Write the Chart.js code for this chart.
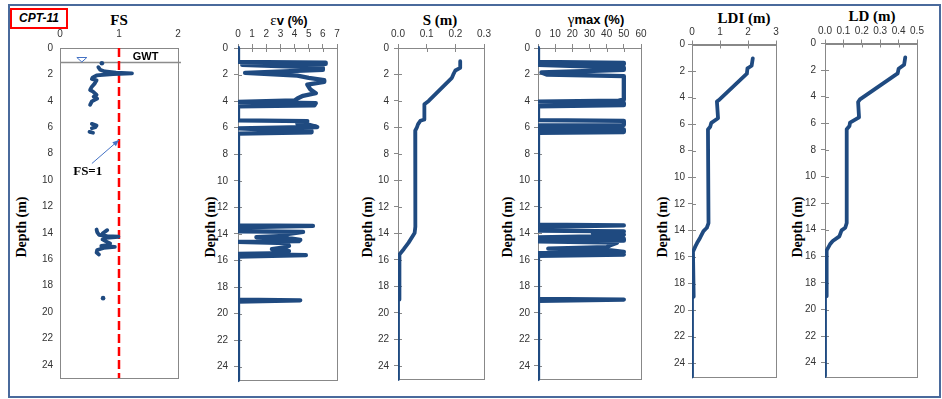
<!DOCTYPE html>
<html>
<head>
<meta charset="utf-8">
<script src="https://cdn.jsdelivr.net/npm/chart.js@4.4.0/dist/chart.umd.min.js"></script>
<style>
  body { margin: 0; background: #fff; width: 942px; height: 399px; position: relative; overflow: hidden; }
  .frame { position: absolute; left: 8px; top: 4px; width: 933px; height: 394px; box-sizing: border-box; border: 2px solid #4a6a9c; }
  .tag { position: absolute; left: 10px; top: 8px; width: 58px; height: 21px; box-sizing: border-box; border: 2px solid #ff0000;
         font: italic bold 12px 'Liberation Sans', sans-serif; line-height: 17px; text-align: center; color: #000; }
  canvas { position: absolute; top: 0; }
  .ttl { position: absolute; transform: translate(-50%, -50%); white-space: nowrap; font: bold 15px 'Liberation Serif', serif; color: #000; }
  .ttl .sym { font: 15px 'Liberation Serif', serif; }
  .ttl .sans { font: bold 13px 'Liberation Sans', sans-serif; }
  .dep { position: absolute; transform: translate(-50%, -50%) rotate(-90deg); white-space: nowrap; font: bold 14px 'Liberation Serif', serif; color: #000; }
</style>
</head>
<body>
<div class="frame"></div>
<div class="tag">CPT-11</div>

<div class="ttl" style="left:119px;top:20px">FS</div>
<div class="ttl" style="left:289px;top:20px"><span class="sym">ε</span><span class="sans">v (%)</span></div>
<div class="ttl" style="left:440px;top:20px">S (m)</div>
<div class="ttl" style="left:596px;top:19px"><span class="sym">γ</span><span class="sans">max (%)</span></div>
<div class="ttl" style="left:744px;top:18px">LDI (m)</div>
<div class="ttl" style="left:872px;top:16px">LD (m)</div>

<div class="dep" style="left:22px;top:227px">Depth (m)</div>
<div class="dep" style="left:211px;top:227px">Depth (m)</div>
<div class="dep" style="left:368px;top:227px">Depth (m)</div>
<div class="dep" style="left:508px;top:227px">Depth (m)</div>
<div class="dep" style="left:663px;top:227px">Depth (m)</div>
<div class="dep" style="left:798px;top:227px">Depth (m)</div>

<canvas id="fs"></canvas>
<canvas id="ev"></canvas>
<canvas id="s"></canvas>
<canvas id="gm"></canvas>
<canvas id="ldi"></canvas>
<canvas id="ld"></canvas>

<script>
// [value, depth] pairs, null breaks the line
const fsProfile = [
  [0.65,1.45],[0.68,1.65],[0.76,1.78],[0.95,1.86],[1.22,1.92],[0.9,1.97],[0.62,2.08],[0.55,2.25],[0.54,2.35],[0.62,2.45],
  [0.59,2.68],[0.54,2.93],[0.51,3.18],[0.56,3.3],[0.62,3.55],[0.57,3.68],[0.63,3.83],[0.54,4.04],[0.51,4.3],
  null,
  [0.54,5.75],[0.62,5.87],[0.6,6.0],[0.54,6.08],
  null,
  [0.5,6.35],[0.56,6.42],
  null,
  [0.62,13.75],[0.63,13.95],[0.66,14.15],[0.8,14.25],[0.99,14.3],[0.78,14.38],[0.72,14.5],[0.78,14.65],[0.85,14.8],
  [0.8,14.93],[0.7,15.0],[0.93,15.06],[0.74,15.15],[0.63,15.3],[0.62,15.5],[0.66,15.65],
  null,
  [0.8,13.8],[0.72,14.05]
]
const fsDots = [[0.71,1.15],[0.73,18.95]]
const fsLimit = [[1,0],[1,25]]
const gwtDepth = 1.08
const fsArrow = [[0.54,8.75],[1.0,6.97]]

const evProfile = [
  [0,0],[0,1.05],[6.2,1.1],[6.2,1.2],[0.3,1.27],[6.0,1.48],[6.0,1.65],[0.5,1.88],[4.2,2.08],[5.0,2.25],[6.1,2.42],[6.1,2.55],
  [4.9,2.75],[5.1,3.1],[5.5,3.4],[4.6,3.6],[4.2,3.8],[4.0,3.95],[0,4.05],[5.5,4.15],[5.4,4.32],[0,4.4],
  [0,5.45],[4.9,5.5],[4.2,5.7],[4.9,5.75],[5.6,5.95],[0,6.05],[5.2,6.25],[5.2,6.35],[0,6.45],
  [0,13.35],[5.3,13.4],[0,13.5],[0,13.8],[4.6,13.85],[3.6,14.0],[3.3,14.15],[1.3,14.25],[3.8,14.35],[4.4,14.45],[4.3,14.55],
  [0,14.6],[3.5,14.7],[3.6,14.9],[3.4,15.0],[2.4,15.15],[3.6,15.3],[3.4,15.45],[0,15.5],[4.8,15.6],[0,15.7],
  [0,18.95],[4.4,19.0],[0,19.1],[0,25]
]

const sProfile = [
  [0.217,1.0],[0.217,1.5],[0.2,1.7],[0.193,2.0],[0.188,2.25],[0.107,4.0],[0.092,4.25],[0.092,5.4],[0.078,5.5],[0.07,5.75],
  [0.066,6.0],[0.06,6.25],[0.06,6.4],[0.061,13.5],[0.058,13.97],[0.037,14.7],[0.02,15.2],[0.005,15.6],[0.005,19.0],[0,19.05],[0,25]
]

const gmProfile = [
  [0,0],[0,1.05],[50,1.12],[50,1.22],[0.5,1.28],[50,1.48],[50,1.65],[2,1.85],[5,2.0],[50,2.12],[50,3.9],[47,3.97],[0,4.05],
  [50,4.15],[50,4.32],[0,4.4],
  [0,5.45],[50,5.5],[50,5.82],[0,5.85],[0,6.1],[50,6.15],[50,6.35],[0,6.4],
  [0,13.35],[50,13.4],[0,13.5],[0,13.8],[50,13.85],[32,14.0],[50,14.1],[48,14.2],[0,14.3],[50,14.4],[50,14.55],[0,14.6],
  [46,14.7],[42,14.9],[40,15.05],[6,15.15],[40,15.25],[50,15.4],[0,15.5],[50,15.6],[0,15.7],
  [0,18.95],[50,19.0],[0,19.1],[0,25]
]

const ldiProfile = [
  [2.17,1.05],[2.13,1.6],[1.98,1.8],[1.96,2.2],[0.95,4.2],[0.89,4.3],[0.93,5.55],[0.69,5.9],[0.65,6.2],[0.57,6.4],
  [0.59,13.45],[0.53,13.8],[0.41,14.05],[0.29,14.55],[0.18,14.95],[0.12,15.2],[0.035,15.6],[0.06,19.0],[0,19.05],[0,25]
]

const ldProfile = [
  [0.436,1.05],[0.43,1.6],[0.40,1.9],[0.395,2.25],[0.19,4.2],[0.18,4.4],[0.185,5.55],[0.136,5.95],[0.133,6.2],[0.118,6.45],
  [0.118,13.5],[0.11,13.85],[0.09,14.05],[0.078,14.5],[0.042,14.85],[0.027,15.1],[0.009,15.55],[0.009,19.0],[0,19.05],[0,25]
]

const depthRange = [0, 25]
const depthStep = 2

const toPoints = (rows) => rows.map(r => r ? { x: r[0], y: r[1] } : { x: null, y: null })

const blue = '#1F4A80'
const axisGray = '#888888'
const tickFont = { family: "'Liberation Sans', sans-serif", size: 10 }

// gray box round the plot plus the short inner tick marks
const framePlugin = {
  id: 'frame',
  beforeDatasetsDraw(chart, args, opts) {
    const { ctx, chartArea: a, scales } = chart
    ctx.save()
    ctx.strokeStyle = axisGray
    ctx.lineWidth = 1
    ctx.strokeRect(Math.round(a.left) + 0.5, Math.round(a.top) + 0.5, Math.round(a.right - a.left), Math.round(a.bottom - a.top))
    if (opts.inner) {
      ctx.beginPath()
      scales.x.ticks.forEach(t => {
        const px = Math.round(scales.x.getPixelForValue(t.value)) + 0.5
        ctx.moveTo(px, a.top); ctx.lineTo(px, a.top + 4)
      })
      scales.y.ticks.forEach(t => {
        const py = Math.round(scales.y.getPixelForValue(t.value)) + 0.5
        ctx.moveTo(a.left, py); ctx.lineTo(a.left + 4, py)
      })
      ctx.stroke()
    }
    ctx.restore()
  }
}

// GWT line, water table marker and the FS=1 call-out
const fsNotes = {
  id: 'fsNotes',
  beforeDatasetsDraw(chart) {
    const { ctx, chartArea: a, scales: { x, y } } = chart
    const gy = Math.round(y.getPixelForValue(gwtDepth)) + 0.5
    ctx.save()
    ctx.strokeStyle = '#8c8c8c'
    ctx.lineWidth = 1.5
    ctx.beginPath(); ctx.moveTo(a.left, gy); ctx.lineTo(a.right + 3, gy); ctx.stroke()
    const tx = x.getPixelForValue(0.37)
    ctx.strokeStyle = '#4472C4'
    ctx.lineWidth = 1
    ctx.beginPath()
    ctx.moveTo(tx - 5, gy - 5); ctx.lineTo(tx + 5, gy - 5); ctx.lineTo(tx, gy - 0.5); ctx.closePath(); ctx.stroke()
    ctx.fillStyle = '#000'
    ctx.font = "bold 11px 'Liberation Sans', sans-serif"
    ctx.textAlign = 'center'; ctx.textBaseline = 'middle'
    ctx.fillText('GWT', x.getPixelForValue(1.45), y.getPixelForValue(0.7))
    ctx.restore()
  },
  afterDatasetsDraw(chart) {
    const { ctx, scales: { x, y } } = chart
    const x0 = x.getPixelForValue(fsArrow[0][0]), y0 = y.getPixelForValue(fsArrow[0][1])
    const x1 = x.getPixelForValue(fsArrow[1][0]), y1 = y.getPixelForValue(fsArrow[1][1])
    const ang = Math.atan2(y1 - y0, x1 - x0)
    ctx.save()
    ctx.strokeStyle = '#4472C4'; ctx.fillStyle = '#4472C4'; ctx.lineWidth = 1
    ctx.beginPath(); ctx.moveTo(x0, y0); ctx.lineTo(x1, y1); ctx.stroke()
    ctx.beginPath()
    ctx.moveTo(x1, y1)
    ctx.lineTo(x1 - 7 * Math.cos(ang - 0.4), y1 - 7 * Math.sin(ang - 0.4))
    ctx.lineTo(x1 - 7 * Math.cos(ang + 0.4), y1 - 7 * Math.sin(ang + 0.4))
    ctx.closePath(); ctx.fill()
    ctx.fillStyle = '#000'
    ctx.font = "bold 13px 'Liberation Serif', serif"
    ctx.textAlign = 'center'; ctx.textBaseline = 'middle'
    ctx.fillText('FS=1', x.getPixelForValue(0.47), y.getPixelForValue(9.4))
    ctx.restore()
  }
}

const profileSet = (rows, width) => ({
  data: toPoints(rows),
  showLine: true,
  borderColor: blue,
  borderWidth: width,
  pointRadius: 0,
  tension: 0,
  spanGaps: false,
  borderJoinStyle: 'round',
  borderCapStyle: 'round',
  clip: { left: 0, top: 6, right: 6, bottom: 6 }
})

// plot box of each panel in page pixels: left, top, right, bottom
const panels = [
  { id: 'fs', box: [60, 48, 178, 378], xr: [0, 2, 1], dec: 0, inner: false, xPad: 8, yPad: 7,
    sets: [profileSet(fsProfile, 3.8),
           { data: toPoints(fsDots), showLine: false, pointRadius: 2.3, pointBackgroundColor: blue, pointBorderWidth: 0 },
           { data: toPoints(fsLimit), showLine: true, borderColor: '#FF0000', borderWidth: 2.5, borderDash: [9, 4], pointRadius: 0 }],
    extra: [fsNotes] },
  { id: 'ev', box: [238, 48, 337, 380], xr: [0, 7, 1], dec: 0, inner: true, xPad: 4, yPad: 6, sets: [profileSet(evProfile, 4.3)] },
  { id: 's', box: [398, 48, 484, 379], xr: [0, 0.3, 0.1], dec: 1, inner: true, xPad: 4, yPad: 5, sets: [profileSet(sProfile, 3.8)] },
  { id: 'gm', box: [538, 48, 641, 379], xr: [0, 60, 10], dec: 0, inner: true, xPad: 4, yPad: 4, sets: [profileSet(gmProfile, 4.3)] },
  { id: 'ldi', box: [692, 44.5, 776, 376.5], xr: [0, 3, 1], dec: 0, inner: true, xPad: 2, yPad: 3, sets: [profileSet(ldiProfile, 3.8)] },
  { id: 'ld', box: [825, 43.5, 917, 376], xr: [0, 0.5, 0.1], dec: 1, inner: true, xPad: 2, yPad: 5, sets: [profileSet(ldProfile, 3.8)] }
]

const yAxisW = 45, xAxisH = 30, rightPad = 14, pageH = 399

panels.forEach(p => {
  const [l, t, r, b] = p.box
  const canvas = document.getElementById(p.id)
  canvas.width = Math.round(r - l + yAxisW + rightPad)
  canvas.height = pageH
  canvas.style.left = (l - yAxisW) + 'px'

  new Chart(canvas, {
    type: 'scatter',
    data: { datasets: p.sets },
    options: {
      responsive: false,
      animation: false,
      layout: { padding: { left: 0, right: canvas.width - (r - l + yAxisW), top: t - xAxisH, bottom: pageH - b } },
      plugins: { legend: { display: false }, tooltip: { enabled: false }, frame: { inner: p.inner } },
      scales: {
        x: {
          type: 'linear', position: 'top', min: p.xr[0], max: p.xr[1],
          ticks: { stepSize: p.xr[2], padding: p.xPad, font: tickFont, color: '#333', maxRotation: 0,
                   callback: v => Number(v).toFixed(p.dec) },
          grid: { display: p.inner, drawTicks: p.inner, drawOnChartArea: false, tickLength: 4, color: axisGray },
          border: { display: true, color: axisGray },
          afterFit: s => { s.height = xAxisH; s.paddingLeft = 0; s.paddingRight = 0 }
        },
        y: {
          type: 'linear', reverse: true, min: depthRange[0], max: depthRange[1],
          ticks: { stepSize: depthStep, includeBounds: false, padding: p.yPad, font: tickFont, color: '#333' },
          grid: { display: p.inner, drawTicks: p.inner, drawOnChartArea: false, tickLength: 4, color: axisGray },
          border: { display: true, color: axisGray },
          afterFit: s => { s.width = yAxisW; s.paddingTop = 0; s.paddingBottom = 0 }
        }
      }
    },
    plugins: [framePlugin].concat(p.extra || [])
  })
})
</script>
</body>
</html>
